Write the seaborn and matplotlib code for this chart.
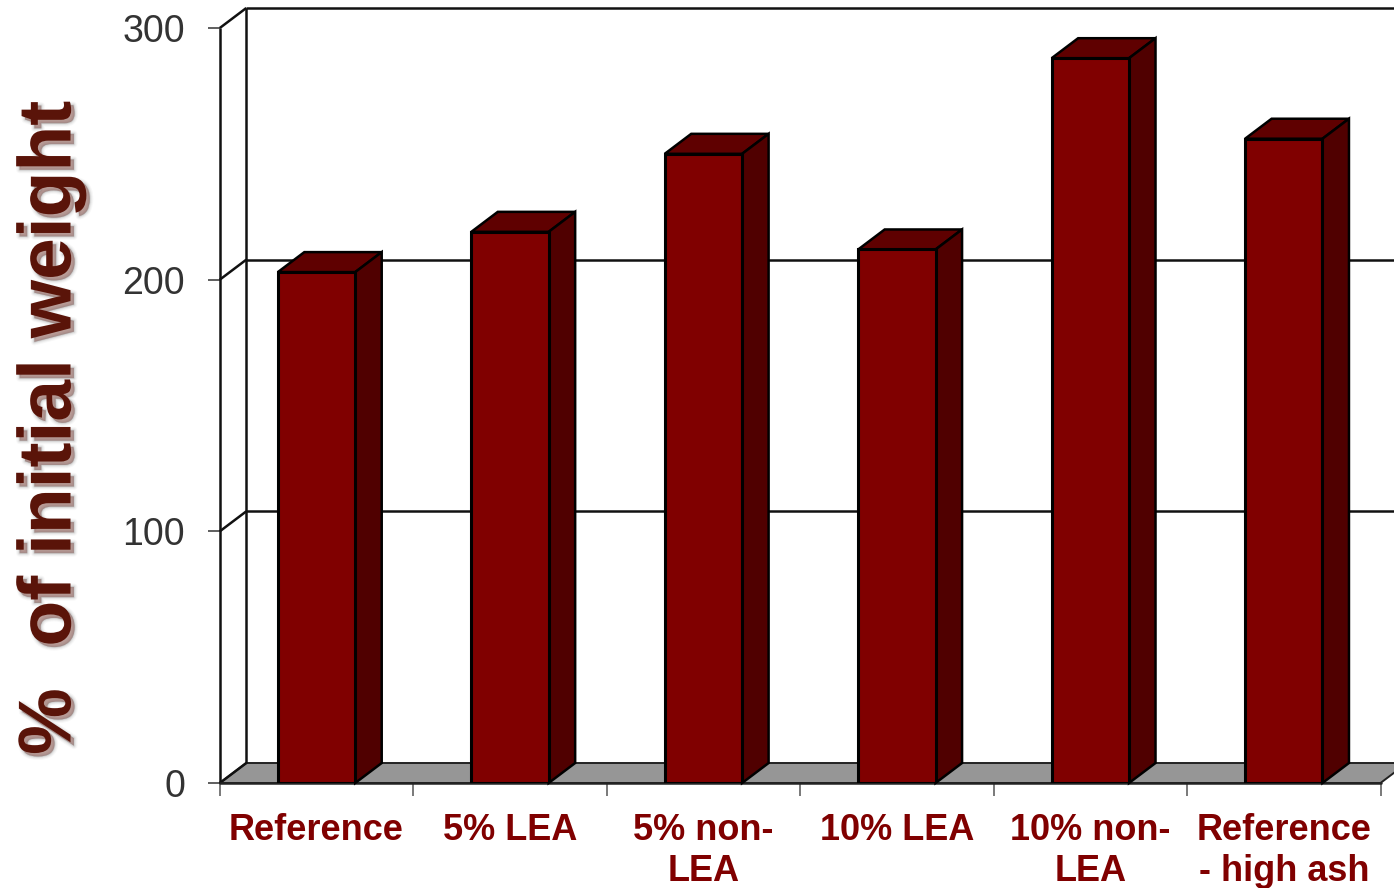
import matplotlib
matplotlib.use("Agg")
import matplotlib.pyplot as plt
import matplotlib.patheffects as pe
from matplotlib.patches import Polygon
import numpy as np
import seaborn as sns

categories = ["Reference", "5% LEA", "5% non-\nLEA", "10% LEA", "10% non-\nLEA", "Reference\n- high ash"]
weight_pct = [203, 219, 250, 212, 288, 256]
y_ticks = [0, 100, 200, 300]

FRONT = "#800000"
TOP = "#5f0000"
SIDE = "#500000"
FLOOR = "#969696"
LABEL = "#5a1409"

sns.set_theme(style="white")
plt.rcParams["font.family"] = ["Liberation Sans", "DejaVu Sans"]

W, H = 1394, 888
fig = plt.figure(figsize=(W / 100, H / 100), dpi=100, facecolor="white")
ax = fig.add_axes([219.8 / W, 1 - 783 / H, (1380.5 - 219.8) / W, (783 - 28) / H])

bar_width = 0.4
sns.barplot(x=categories, y=weight_pct, width=bar_width, color=FRONT, saturation=1,
            edgecolor="black", linewidth=2.2, ax=ax, zorder=5)
ax.set_xlim(-0.5, 5.5)
ax.set_ylim(0, 300)

# Depth of the pseudo-3D box, expressed in data units
dx = 26.5 / ((1380.5 - 219.8) / 6)
dy = 20 / ((783 - 28) / 300)
x0, x1 = -0.5, 5.5
line = dict(color="#111111", lw=1.8, clip_on=False, solid_capstyle="butt")

# Floor and back wall
ax.add_patch(Polygon([(x0, 0), (x1, 0), (x1 + dx, dy), (x0 + dx, dy)], closed=True,
                     fc=FLOOR, ec="#222222", lw=1.4, clip_on=False, zorder=1))
ax.plot([x0, x0], [0, 300], zorder=2, **line)
ax.plot([x0 + dx, x0 + dx], [dy, 300 + dy], zorder=2, **line)
for v in y_ticks:
    ax.plot([x0, x0 + dx], [v, v + dy], zorder=2, **line)
    if v > 0:
        ax.plot([x0 + dx, x1 + dx], [v + dy, v + dy], zorder=2, **line)

# Top and side faces of every bar, derived from its value
for i, v in enumerate(weight_pct):
    l, r = i - bar_width / 2, i + bar_width / 2
    ax.add_patch(Polygon([(l, v), (r, v), (r + dx, v + dy), (l + dx, v + dy)], closed=True,
                         fc=TOP, ec="black", lw=1.8, clip_on=False, zorder=4))
    ax.add_patch(Polygon([(r, 0), (r, v), (r + dx, v + dy), (r + dx, dy)], closed=True,
                         fc=SIDE, ec="black", lw=1.8, clip_on=False, zorder=4))

sns.despine(ax=ax, left=True, bottom=True, top=True, right=True)
ax.plot([x0, x1], [0, 0], color="#222222", lw=1.8, clip_on=False, zorder=3)

ax.set_yticks(y_ticks)
ax.set_yticklabels([str(v) for v in y_ticks], fontsize=27, color="#333333",
                   va="center_baseline")
ax.tick_params(axis="y", which="major", left=True, length=8.6, width=1.1, color="#333333", pad=16.5)

ax.set_xticks(range(len(categories)))
ax.set_xticklabels(categories, fontsize=26, fontweight="bold", color=FRONT, linespacing=1.22)
ax.set_xticks(np.arange(-0.5, 6, 1), minor=True)
ax.tick_params(axis="x", which="major", bottom=False, pad=15.6)
ax.tick_params(axis="x", which="minor", bottom=True, length=9.5, width=1.1, color="#555555")

# Heavy vertical caption with a soft drop shadow
shadow = [pe.Stroke(linewidth=w, foreground="#888888", alpha=a, offset=(2.5, -2.5))
          for w, a in ((5, 0.06), (3.5, 0.09), (2, 0.14), (0.8, 0.2))]
fig.text(51 / W, 1 - 428 / H, "%  of initial weight", rotation=90, ha="center", va="center",
         fontsize=54, fontweight="bold", color=LABEL,
         path_effects=shadow + [pe.Normal()])

fig.savefig("out.png", dpi=100, facecolor="white")
